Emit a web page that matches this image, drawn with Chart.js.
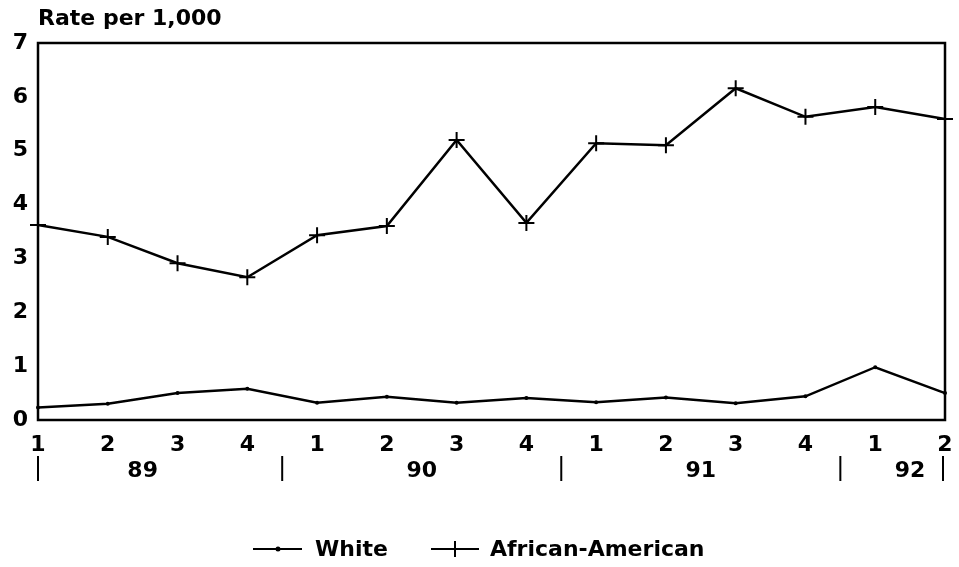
<!DOCTYPE html>
<html>
<head>
<meta charset="utf-8">
<script src="https://cdn.jsdelivr.net/npm/chart.js@4"></script>
<style>
    html, body { margin: 0; padding: 0; background: #fff; }
    #wrap { width: 959px; height: 567px; position: relative; }
</style>
</head>
<body>
<div id="wrap"><canvas id="rate-chart"></canvas></div>
<script>
// Quarter labels and the year each quarter belongs to
const quarters = ["1", "2", "3", "4", "1", "2", "3", "4", "1", "2", "3", "4", "1", "2"];
const years = ["89", "89", "89", "89", "90", "90", "90", "90", "91", "91", "91", "91", "92", "92"];

// Rates per 1,000
const whiteRates = [0.23, 0.30, 0.50, 0.58, 0.32, 0.43, 0.32, 0.41, 0.33, 0.42, 0.31, 0.44, 0.98, 0.50];
const africanAmericanRates = [3.62, 3.40, 2.91, 2.65, 3.43, 3.60, 5.20, 3.66, 5.14, 5.10, 6.16, 5.63, 5.81, 5.59];

const yTicks = [0, 1, 2, 3, 4, 5, 6, 7];

const FONT = "'DejaVu Sans', Arial, Helvetica, sans-serif";
const FONT_SIZE = 22;

// Frame, title, year row and legend
const decorPlugin = {
    id: "decor",
    afterDraw(chart) {
        const ctx = chart.ctx;
        const area = chart.chartArea;
        const x = chart.scales.x;

        ctx.save();
        ctx.strokeStyle = "#000";
        ctx.lineWidth = 2.5;
        ctx.strokeRect(area.left, area.top, area.right - area.left, area.bottom - area.top);

        ctx.fillStyle = "#000";
        ctx.font = "bold " + FONT_SIZE + "px " + FONT;
        ctx.textBaseline = "middle";
        ctx.textAlign = "left";
        ctx.fillText("Rate per 1,000", area.left, 19);

        // year labels centred under their quarters, separators between years
        const groups = [];
        years.forEach((y, i) => {
            const last = groups[groups.length - 1];
            if (last && last.year === y) last.end = i;
            else groups.push({ year: y, start: i, end: i });
        });
        ctx.textAlign = "center";
        ctx.lineWidth = 2;
        groups.forEach((g, gi) => {
            const x0 = x.getPixelForValue(g.start);
            const x1 = x.getPixelForValue(g.end);
            ctx.fillText(g.year, (x0 + x1) / 2, 471);
            let sep;
            if (gi === 0) sep = x0;
            else sep = (x.getPixelForValue(g.start - 1) + x0) / 2;
            ctx.beginPath();
            ctx.moveTo(sep, 456);
            ctx.lineTo(sep, 481);
            ctx.stroke();
        });
        const endX = x.getPixelForValue(years.length - 1) - 2;
        ctx.beginPath();
        ctx.moveTo(endX, 456);
        ctx.lineTo(endX, 481);
        ctx.stroke();

        // legend
        const ly = 549;
        ctx.textAlign = "left";
        ctx.lineWidth = 2;
        ctx.beginPath();
        ctx.moveTo(253, ly);
        ctx.lineTo(302, ly);
        ctx.stroke();
        ctx.beginPath();
        ctx.arc(278, ly, 2.5, 0, Math.PI * 2);
        ctx.fill();
        ctx.fillText(chart.data.datasets[0].label, 315, ly + 1);

        ctx.beginPath();
        ctx.moveTo(431, ly);
        ctx.lineTo(479, ly);
        ctx.moveTo(455, ly - 8);
        ctx.lineTo(455, ly + 8);
        ctx.stroke();
        ctx.fillText(chart.data.datasets[1].label, 490, ly + 1);
        ctx.restore();
    }
};

const chart = new Chart(document.getElementById("rate-chart"), {
    type: "line",
    data: {
        labels: quarters,
        datasets: [
            {
                label: "White",
                data: whiteRates,
                borderColor: "#000",
                backgroundColor: "#000",
                borderWidth: 2.5,
                pointStyle: "circle",
                pointRadius: 2,
                pointBorderWidth: 0,
                tension: 0
            },
            {
                label: "African-American",
                data: africanAmericanRates,
                borderColor: "#000",
                backgroundColor: "#000",
                borderWidth: 2.5,
                pointStyle: "cross",
                pointRadius: 8,
                pointBorderWidth: 2,
                tension: 0
            }
        ]
    },
    options: {
        responsive: true,
        maintainAspectRatio: false,
        animation: false,
        layout: { padding: { top: 43, right: 14, bottom: 0, left: 0 } },
        plugins: {
            legend: { display: false },
            tooltip: { enabled: false },
            title: { display: false }
        },
        scales: {
            x: {
                offset: false,
                grid: { display: false, drawTicks: false },
                border: { display: false },
                ticks: {
                    color: "#000",
                    font: { family: FONT, size: FONT_SIZE, weight: "bold" },
                    padding: 12,
                    maxRotation: 0,
                    autoSkip: false
                },
                afterFit(scale) {
                    scale.height = 147;
                    scale.paddingLeft = 0;
                    scale.paddingRight = 0;
                }
            },
            y: {
                min: 0,
                max: 7,
                afterBuildTicks(scale) { scale.ticks = yTicks.map(v => ({ value: v })); },
                grid: { display: false, drawTicks: false },
                border: { display: false },
                ticks: {
                    color: "#000",
                    font: { family: FONT, size: FONT_SIZE, weight: "bold" },
                    padding: 10
                },
                afterFit(scale) {
                    scale.width = 38;
                    scale.paddingTop = 0;
                    scale.paddingBottom = 0;
                }
            }
        }
    },
    plugins: [decorPlugin]
});
</script>
</body>
</html>
